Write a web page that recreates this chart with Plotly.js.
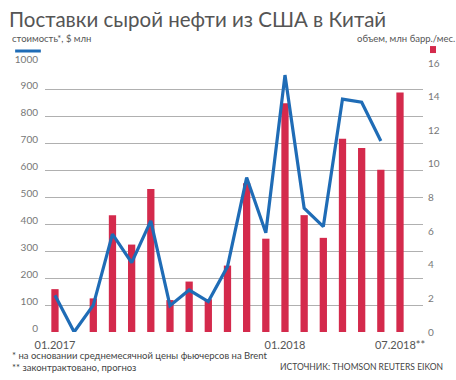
<!DOCTYPE html>
<html><head><meta charset="utf-8">
<script src="https://cdn.plot.ly/plotly-3.0.1.min.js"></script>
<style>html,body{margin:0;padding:0;background:#fff}#chart{width:456px;height:380px}</style>
</head><body><div id="chart"></div>
<script>
const months = ["01.2017","02.2017","03.2017","04.2017","05.2017","06.2017","07.2017","08.2017","09.2017","10.2017","11.2017","12.2017","01.2018","02.2018","03.2018","04.2018","05.2018","06.2018","07.2018"];
const volume = [2.55, 0, 2.0, 6.95, 5.2, 8.5, 1.9, 3.0, 1.95, 3.95, 8.85, 5.55, 13.6, 6.95, 5.6, 11.5, 10.95, 9.65, 14.25];
const value = [137, 0, 100, 364, 258, 413, 98, 156, 113, 243, 574, 369, 955, 460, 392, 866, 854, 710, null];
const tickMonths = ["01.2017","01.2018","07.2018"];
const tickLabels = ["01.2017","01.2018","07.2018**"];

const font = "Lato, 'Open Sans', sans-serif";
const data = [
  {type:'bar', x:months, y:volume, yaxis:'y', marker:{color:'#d42a4c'}, width:0.38, hoverinfo:'skip'},
  {type:'scatter', mode:'lines', x:months, y:value, yaxis:'y2', line:{color:'#1f6cb6', width:3.2}, connectgaps:false}
];
const layout = {
  width:456, height:380, showlegend:false,
  paper_bgcolor:'#fff', plot_bgcolor:'#fff',
  margin:{l:45, r:33, t:63, b:48},
  font:{family:font, color:'#666', size:10},
  xaxis:{type:'category', range:[-0.52, 19.2], tickvals:tickMonths, ticktext:tickLabels, showgrid:false, zeroline:false, showline:false, ticks:'', tickfont:{size:11, color:'#555'}, ticklabelstandoff:5},
  yaxis:{side:'right', range:[0,16], dtick:2, showgrid:false, zeroline:false, tickfont:{size:10, color:'#777'}, ticklabelstandoff:4},
  yaxis2:{side:'left', overlaying:'y', range:[0,1000], dtick:100, showgrid:true, gridcolor:'#b0b0b0', gridwidth:1, zeroline:false, tickfont:{size:10, color:'#777'}, ticklabelstandoff:6, ticklabelshift:-4},
  annotations:[
    {xref:'paper', yref:'paper', x:-0.1, y:1.0, xanchor:'left', yanchor:'middle', yshift:44, text:'Поставки сырой нефти из США в Китай', showarrow:false, font:{size:20.5, color:'#555', family:font}},
    {xref:'paper', yref:'paper', x:-0.093, y:1.0, xanchor:'left', yanchor:'middle', yshift:25, text:'стоимость*, $ млн', showarrow:false, font:{size:9.5, color:'#555'}},
    {xref:'paper', yref:'paper', x:1.09, y:1.0, xanchor:'right', yanchor:'middle', yshift:25, text:'объем, млн барр./мес.', showarrow:false, font:{size:9.5, color:'#555'}},
    {xref:'paper', yref:'paper', x:-0.092, y:0, xanchor:'left', yanchor:'middle', yshift:-23, text:'* на основании среднемесячной цены фьючерсов на Brent', showarrow:false, font:{size:9.5, color:'#444'}},
    {xref:'paper', yref:'paper', x:-0.092, y:0, xanchor:'left', yanchor:'middle', yshift:-35, text:'** законтрактовано, прогноз', showarrow:false, font:{size:9.5, color:'#444'}},
    {xref:'paper', yref:'paper', x:1.058, y:0, xanchor:'right', yanchor:'middle', yshift:-35, text:'ИСТОЧНИК: THOMSON REUTERS EIKON', showarrow:false, font:{size:8.5, color:'#444'}}
  ],
  shapes:[
    {type:'line', xref:'paper', yref:'paper', x0:-0.079, x1:-0.011, y0:1.0446, y1:1.0446, line:{color:'#1f6cb6', width:3}},
    {type:'rect', xref:'paper', yref:'paper', x0:1.0185, x1:1.0344, y0:1.037, y1:1.063, fillcolor:'#d42a4c', line:{width:0}}
  ]
};
Plotly.newPlot('chart', data, layout, {displayModeBar:false, staticPlot:true});
</script></body></html>
